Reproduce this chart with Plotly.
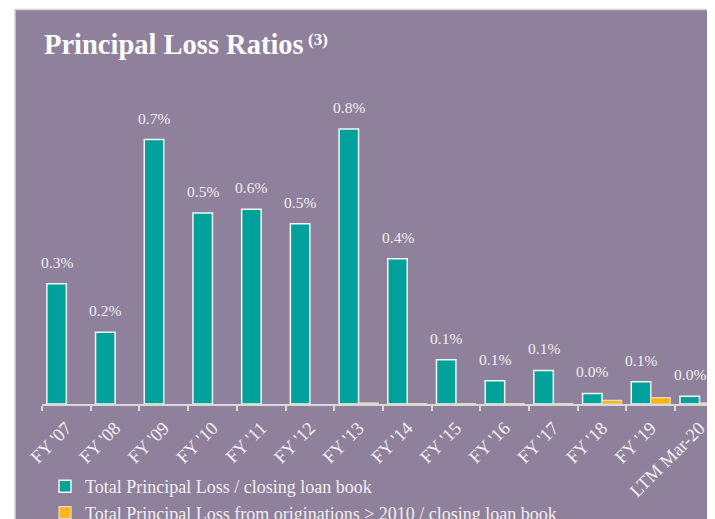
import plotly.graph_objects as go

categories = ["FY '07", "FY '08", "FY '09", "FY '10", "FY '11", "FY '12", "FY '13",
              "FY '14", "FY '15", "FY '16", "FY '17", "FY '18", "FY '19", "LTM Mar-20"]
total_loss = [0.340, 0.203, 0.748, 0.540, 0.551, 0.510, 0.778,
              0.411, 0.125, 0.066, 0.095, 0.030, 0.063, 0.022]
post2010_loss = [None, None, None, None, None, None, 0.003,
                 0.001, 0.001, 0.001, 0.001, 0.010, 0.018, 0.003]
series_names = ["Total Principal Loss / closing loan book",
                "Total Principal Loss from originations > 2010 / closing loan book"]
title_text = "Principal Loss Ratios"
title_note = "(3)"

# the page body has an 8px margin, so the figure starts at (8, 8)
OFF = 8
W, H = 715 - OFF, 519 - OFF
L, R, T, B = 34, 0, 52, 115
pw, ph = W - L - R, H - T - B
cat_px = 48.7
px_per_pct = 353.5

BG = "#8F809B"
TEAL = "#00A19A"
ORANGE = "#FDB515"
TXT = "#F0F0F0"
FONT = "Liberation Serif, Times New Roman, serif"

fig = go.Figure()
fig.add_trace(go.Bar(x=categories, y=total_loss, name=series_names[0],
                     marker=dict(color=TEAL, line=dict(color="#F4F4F4", width=1.5))))
fig.add_trace(go.Bar(x=categories, y=post2010_loss, name=series_names[1],
                     marker=dict(color=ORANGE, line=dict(color="#E8DCC8", width=1.2))))

# data labels above the teal bars
for c, v in zip(categories, total_loss):
    fig.add_annotation(x=c, y=v, text=f"{v:.1f}%", showarrow=False,
                       xshift=-0.2 * cat_px, yshift=11, yanchor="bottom",
                       font=dict(family=FONT, size=15.5, color=TXT))

def px_to_paper_x(px):  # page pixel -> paper
    return (px - OFF - L) / pw

def px_to_paper_y(py):
    return (H - B - (py - OFF)) / ph

# purple panel
fig.add_shape(type="rect", xref="paper", yref="paper",
              x0=px_to_paper_x(15), x1=px_to_paper_x(717),
              y0=px_to_paper_y(521), y1=px_to_paper_y(9.5),
              fillcolor=BG, line=dict(color="#D2D2D2", width=1.5), layer="below")

fig.add_annotation(xref="paper", yref="paper", x=px_to_paper_x(42), y=px_to_paper_y(45),
                   xanchor="left", yanchor="middle", showarrow=False,
                   text=f"<b>{title_text}</b>",
                   font=dict(family=FONT, size=28.5, color="#FFFFFF"))
fig.add_annotation(xref="paper", yref="paper", x=px_to_paper_x(306), y=px_to_paper_y(40),
                   xanchor="left", yanchor="middle", showarrow=False,
                   text=f"<b>{title_note}</b>",
                   font=dict(family=FONT, size=17, color="#FFFFFF"))

fig.update_layout(
    width=W, height=H,
    margin=dict(l=L, r=R, t=T, b=B, autoexpand=False),
    paper_bgcolor="#FFFFFF", plot_bgcolor="rgba(0,0,0,0)",
    barmode="group", bargap=0.2, bargroupgap=0,
    showlegend=True,
    legend=dict(x=px_to_paper_x(45), y=px_to_paper_y(468), xanchor="left", yanchor="top",
                bgcolor="rgba(0,0,0,0)", font=dict(family=FONT, size=18, color=TXT),
                orientation="v", tracegroupgap=0),
    font=dict(family=FONT, color=TXT),
)
fig.update_xaxes(type="category", range=[-0.5, -0.5 + pw / cat_px],
                 showline=True, linecolor="#D9D9D9", linewidth=2,
                 ticks="outside", tickson="boundaries", ticklen=5, tickwidth=1.5,
                 tickcolor="#D9D9D9", tickangle=-45, ticklabelstandoff=4,
                 tickfont=dict(family=FONT, size=18.5, color=TXT),
                 showgrid=False, zeroline=False, fixedrange=True)
fig.update_yaxes(range=[0, ph / px_per_pct], visible=False, showgrid=False,
                 zeroline=False, fixedrange=True)

fig.write_html("out.html")
